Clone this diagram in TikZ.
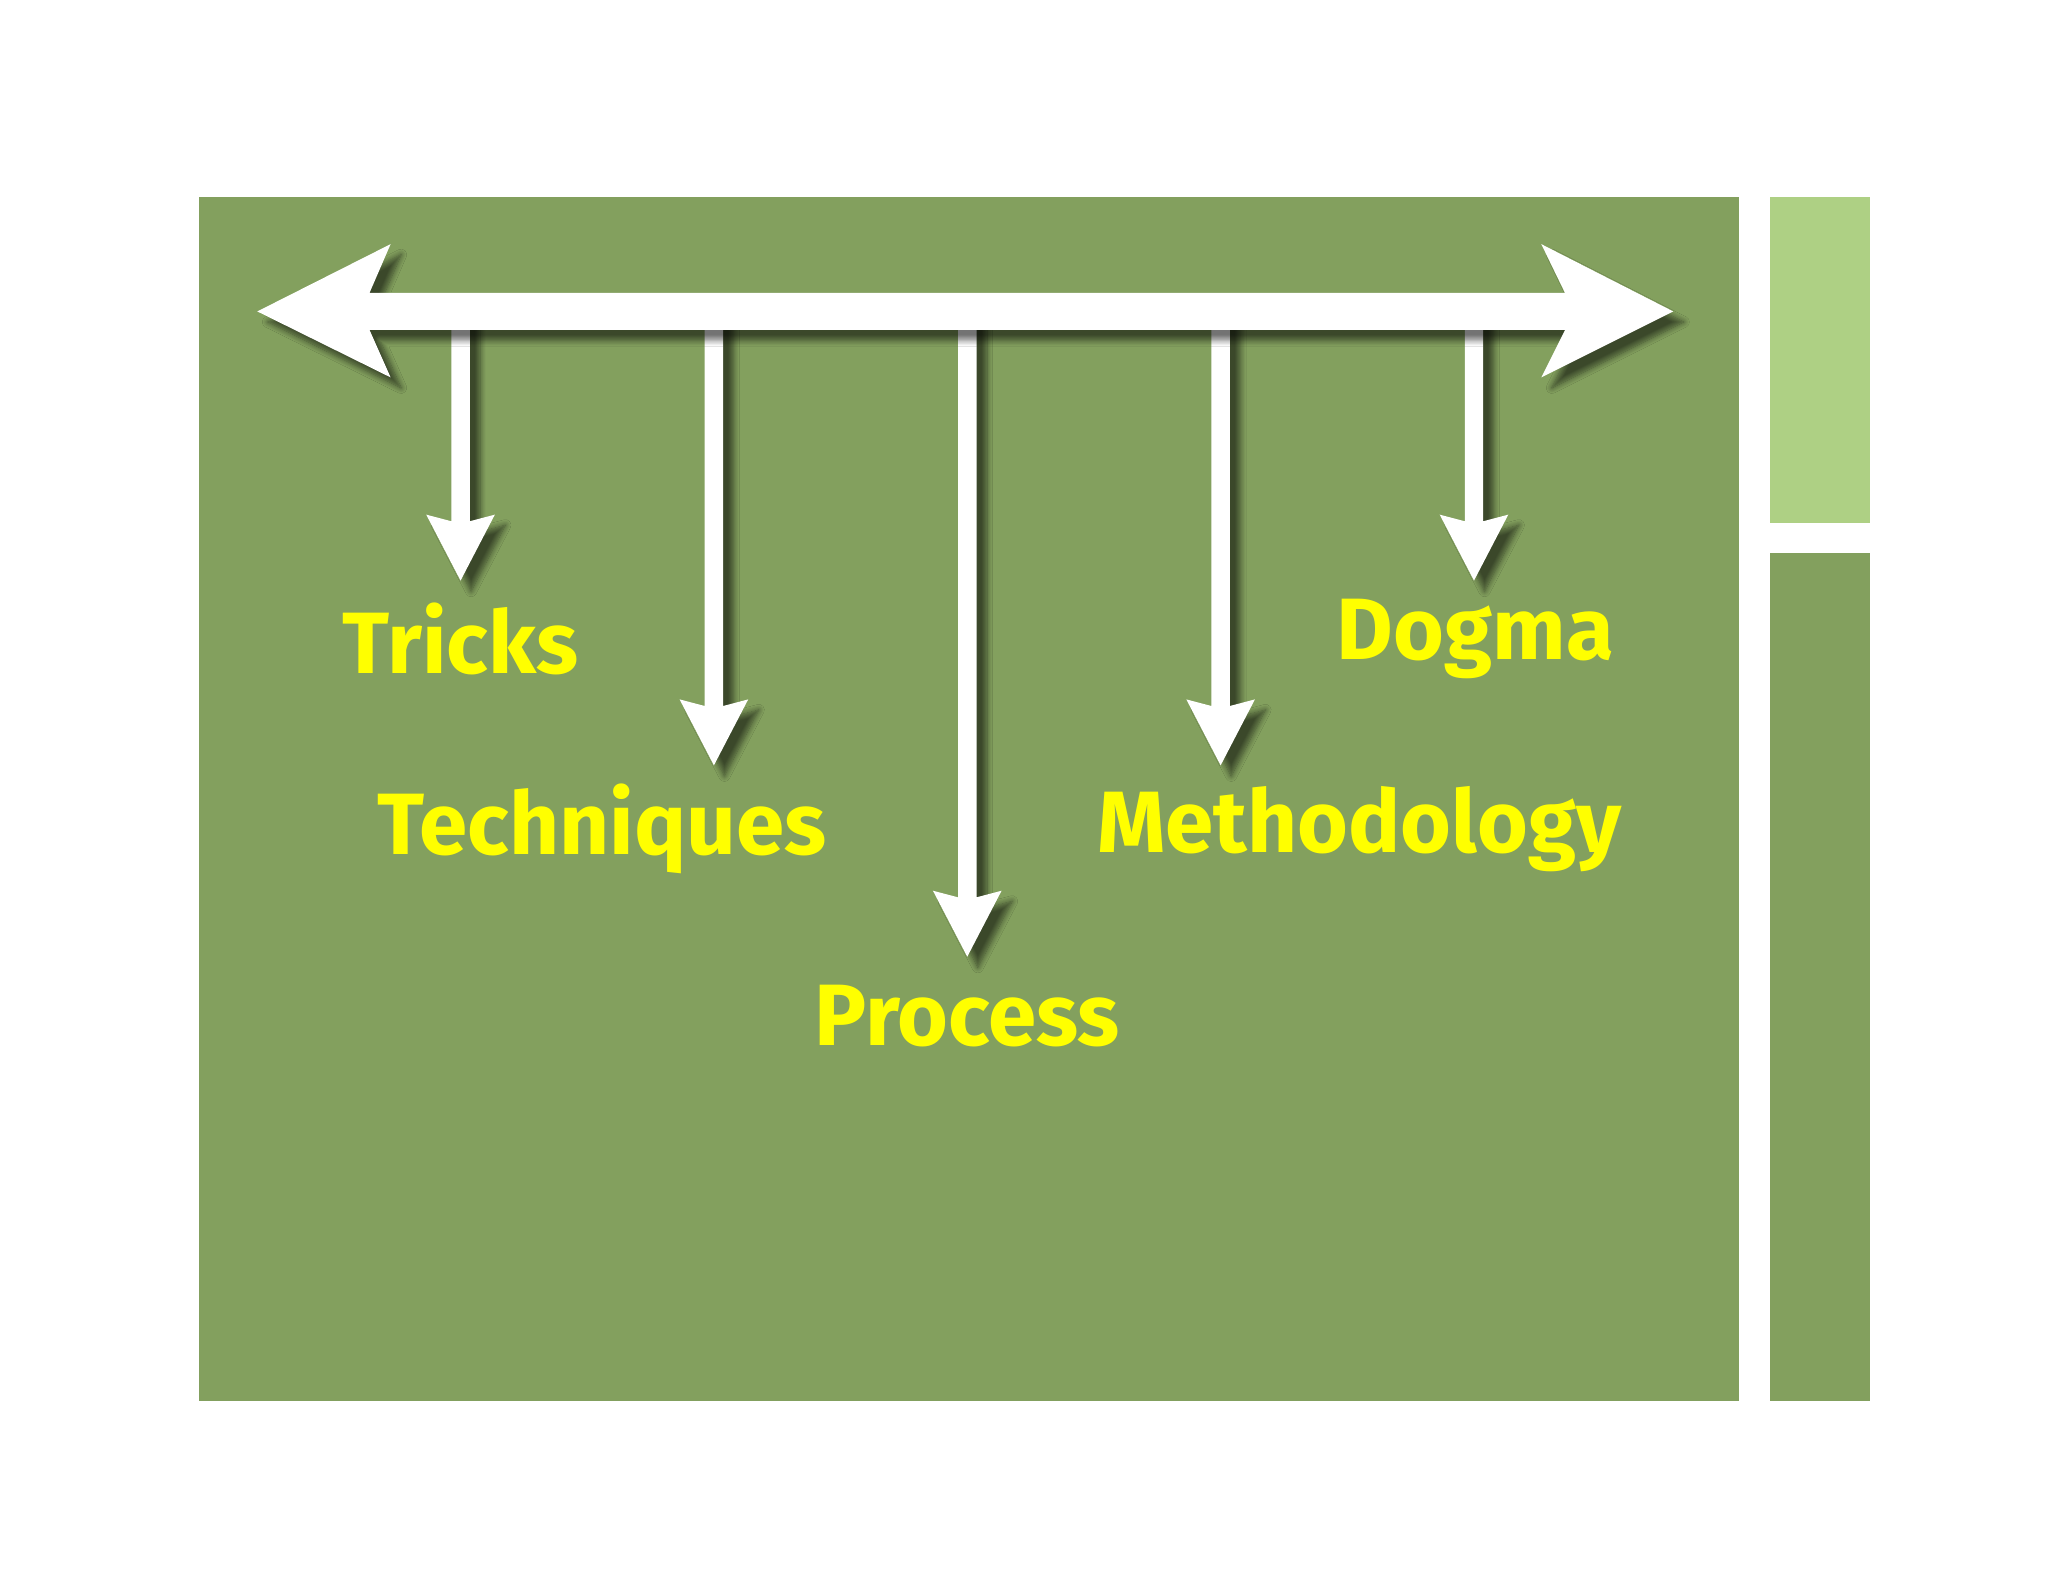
\documentclass[tikz,border=0pt]{standalone}
\usepackage{fontspec}
\setmainfont{Fira Sans}
\usetikzlibrary{shadows.blur}
\definecolor{dg}{HTML}{83A05E}
\definecolor{lg}{HTML}{AED084}
\definecolor{yl}{HTML}{FFFF00}
\begin{document}
\begin{tikzpicture}[x=0.5pt,y=-0.5pt,
  arr/.style={fill=white,blur shadow={shadow xshift=4pt,shadow yshift=-4pt,shadow blur steps=8,shadow opacity=55}},
  lab/.style={font=\fontsize{33}{36}\selectfont\bfseries,text=yl,inner sep=0pt}]
\useasboundingbox (0,0) rectangle (1552,1199);
\fill[white] (0,0) rectangle (1552,1199);
\fill[dg] (151,149) rectangle (1318,1062);
\fill[lg] (1341,149) rectangle (1417,396);
\fill[dg] (1341,419) rectangle (1417,1062);
% vertical arrows
\foreach \x/\e in {349/440,541/580,733/725,925/580,1117/440}{
  \path[arr] (\x-7,236) -- (\x+7,236) -- (\x+7,\e-45) -- (\x+26,\e-50) -- (\x,\e) -- (\x-26,\e-50) -- (\x-7,\e-45) -- cycle;
}
% horizontal double arrow
\path[arr] (195,236) -- (296,185) -- (280,222) -- (1186,222) -- (1168,185) -- (1268,236) -- (1168,286) -- (1186,250) -- (280,250) -- (296,286) -- cycle;
\node[lab] (tr) at (349,484) {Tricks};
\node[lab] (te) at (456,628) {Techniques};
\node[lab] (pr) at (733,770) {Process};
\node[lab] (me) at (1030,628) {Methodology};
\node[lab] (do) at (1118,484) {Dogma};
\end{tikzpicture}
\end{document}
